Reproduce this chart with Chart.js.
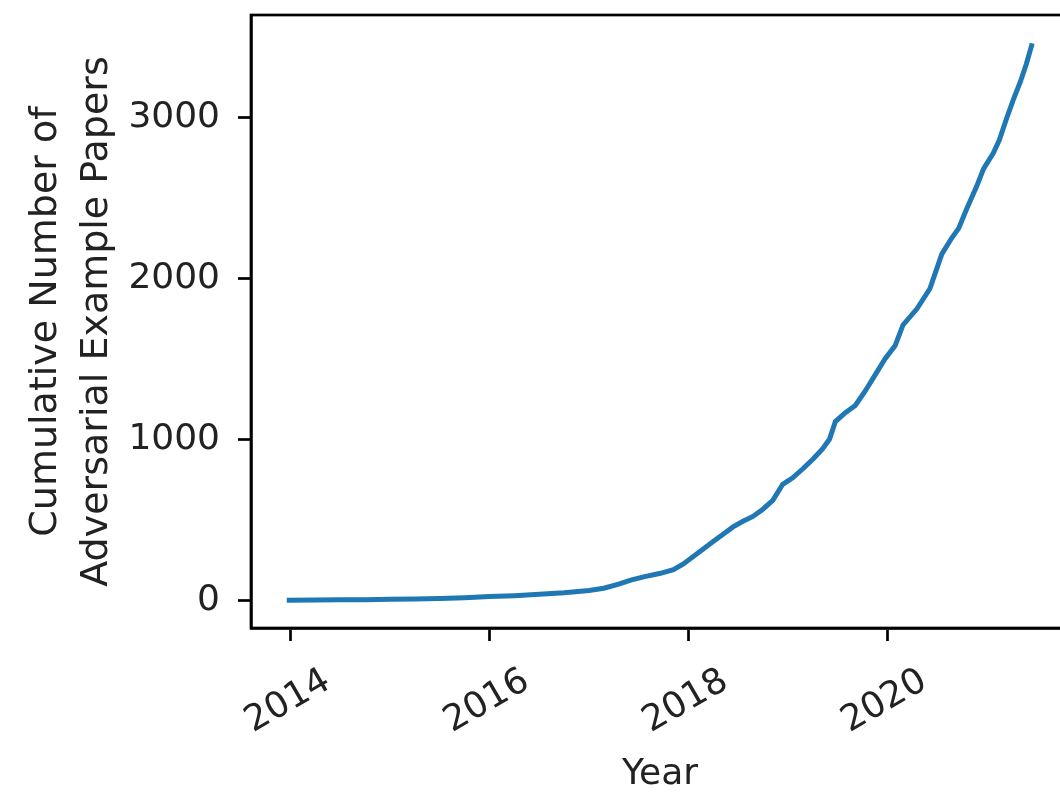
<!DOCTYPE html>
<html lang="en">
<head>
    <meta charset="UTF-8">
    <title>Cumulative Number of Adversarial Example Papers</title>
    <script src="https://cdn.jsdelivr.net/npm/chart.js"></script>
    <style>
        body { margin: 0; background: #fff; overflow: hidden; }
        .wrap { width: 1060px; height: 793px; overflow: hidden; }
    </style>
</head>
<body>
    <div class="wrap">
        <canvas id="myChart" width="1080" height="793"></canvas>
    </div>

    <script>
        // decimal year vs. cumulative paper count
        const years = [
            2013.96, 2014.25, 2014.5, 2014.75, 2015.0, 2015.25, 2015.5, 2015.75,
            2016.0, 2016.25, 2016.5, 2016.75, 2017.0, 2017.15, 2017.3, 2017.42,
            2017.55, 2017.72, 2017.85, 2017.95, 2018.1, 2018.25, 2018.35, 2018.45,
            2018.55, 2018.65, 2018.75, 2018.85, 2018.95, 2019.05, 2019.15, 2019.26,
            2019.35, 2019.42, 2019.48, 2019.58, 2019.68, 2019.78, 2019.88, 2019.98,
            2020.08, 2020.16, 2020.3, 2020.43, 2020.5, 2020.55, 2020.65, 2020.72,
            2020.8, 2020.9, 2020.97, 2021.07, 2021.13, 2021.2, 2021.27, 2021.34,
            2021.4, 2021.46
        ];
        const papers = [
            0, 1, 2, 3, 5, 7, 10, 15,
            22, 28, 36, 46, 60, 74, 100, 124,
            145, 167, 190, 225, 295, 365, 410, 455,
            490, 520, 565, 620, 720, 760, 815, 880,
            940, 1000, 1110, 1165, 1210, 1300, 1400, 1500,
            1580, 1710, 1810, 1935, 2060, 2150, 2250, 2310,
            2430, 2570, 2680, 2780, 2860, 2990, 3110, 3220,
            3330, 3460
        ];
        const xTicks = [2014, 2016, 2018, 2020];
        const yTicks = [0, 1000, 2000, 3000];

        const points = years.map((y, i) => ({ x: y, y: papers[i] }));

        const font = { family: 'DejaVu Sans', size: 36 };
        const ink = '#222';

        // full box around the plot area (matplotlib spines)
        const frame = {
            id: 'frame',
            afterDatasetsDraw(chart) {
                const a = chart.chartArea;
                const ctx = chart.ctx;
                ctx.save();
                ctx.strokeStyle = '#000';
                ctx.lineWidth = 2.7;
                ctx.strokeRect(a.left, a.top, a.right - a.left, a.bottom - a.top);
                ctx.restore();
            }
        };

        const ctx = document.getElementById('myChart').getContext('2d');
        const chart = new Chart(ctx, {
            type: 'line',
            data: {
                datasets: [{
                    data: points,
                    borderColor: '#1f77b4',
                    borderWidth: 5,
                    pointRadius: 0,
                    tension: 0,
                    fill: false,
                }]
            },
            plugins: [frame],
            options: {
                responsive: false,
                animation: false,
                layout: { padding: { top: 15, right: 11, left: 0, bottom: 0 } },
                plugins: {
                    legend: { display: false },
                    tooltip: { enabled: false }
                },
                scales: {
                    x: {
                        type: 'linear',
                        min: 2013.6,
                        max: 2021.83,
                        afterBuildTicks: (s) => { s.ticks = xTicks.map(v => ({ value: v })); },
                        afterFit: (s) => { s.height = 165; s.paddingLeft = 0; s.paddingRight = 0; },
                        grid: { drawOnChartArea: false, tickLength: 13, tickWidth: 2.7, tickColor: '#000' },
                        border: { display: true, color: '#000', width: 2.7 },
                        ticks: {
                            font: font, color: ink,
                            minRotation: 30, maxRotation: 30,
                            labelOffset: 37, padding: 19,
                            callback: (v) => String(v)
                        },
                        title: {
                            display: true, text: 'Year',
                            font: { family: 'DejaVu Sans', size: 36, lineHeight: 1.0 },
                            color: ink,
                            padding: { top: 0, bottom: 0 }
                        }
                    },
                    y: {
                        min: -173,
                        max: 3636,
                        afterBuildTicks: (s) => { s.ticks = yTicks.map(v => ({ value: v })); },
                        afterFit: (s) => { s.width = 251; s.paddingTop = 0; s.paddingBottom = 0; },
                        grid: { drawOnChartArea: false, tickLength: 13, tickWidth: 2.7, tickColor: '#000' },
                        border: { display: true, color: '#000', width: 2.7 },
                        ticks: { font: font, color: ink, padding: 18, callback: (v) => String(v) },
                        title: {
                            display: true,
                            text: ['Cumulative Number of', 'Adversarial Example Papers'],
                            font: { family: 'DejaVu Sans', size: 38, lineHeight: 1.35 },
                            color: ink,
                            padding: { top: 20, bottom: 0 }
                        }
                    }
                }
            }
        });
    </script>
</body>
</html>
